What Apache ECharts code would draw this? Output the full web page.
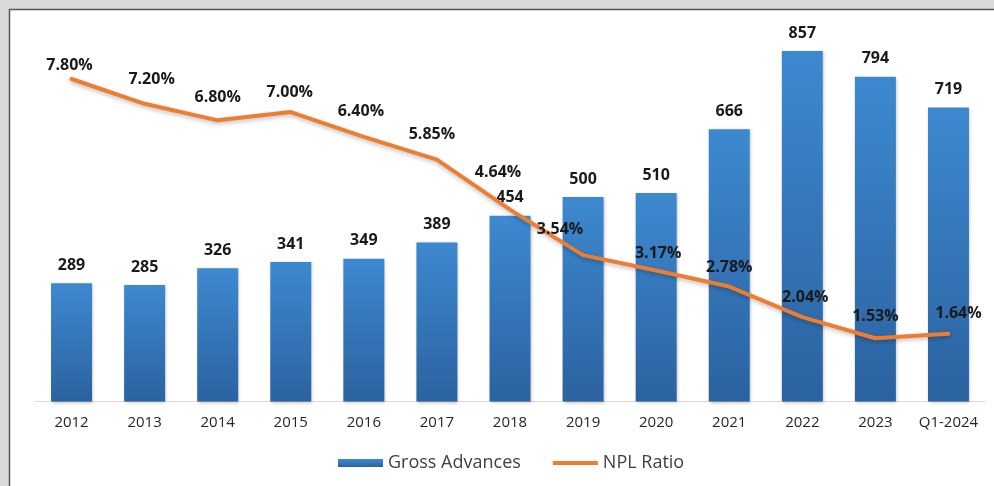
<!DOCTYPE html>
<html>
<head>
<meta charset="utf-8">
<script src="https://cdn.jsdelivr.net/npm/echarts@6/dist/echarts.min.js"></script>
<style>
  html, body { margin: 0; padding: 0; background: #d9d9d9; }
  #chart { width: 994px; height: 486px; }
</style>
</head>
<body>
<div id="chart"></div>
<script>
// Categories and values
const years = ['2012', '2013', '2014', '2015', '2016', '2017', '2018', '2019', '2020', '2021', '2022', '2023', 'Q1-2024'];
const grossAdvances = [289, 285, 326, 341, 349, 389, 454, 500, 510, 666, 857, 794, 719];
const nplRatio = [7.80, 7.20, 6.80, 7.00, 6.40, 5.85, 4.64, 3.54, 3.17, 2.78, 2.04, 1.53, 1.64];

// Per-point nudges for the ratio labels so they clear the line and bars
const nplLabelNudge = [
  [-2, 7], [7, -3], [0, -2], [-1, 1], [-3, -4], [-5, -4], [-12, -16],
  [-23, -5], [2, 4], [0, 2], [3, 1], [0, -1], [10, 1]
];

const chart = echarts.init(document.getElementById('chart'), null, { renderer: 'canvas' });

const labelFont = {
  fontFamily: 'Open Sans',
  fontWeight: 'bold',
  fontSize: 16,
  color: '#1a1a1a'
};

const barGradient = new echarts.graphic.LinearGradient(0, 0, 0, 1, [
  { offset: 0, color: '#3d89d0' },
  { offset: 1, color: '#2b62a0' }
]);

const option = {
  backgroundColor: 'transparent',
  animation: false,
  graphic: [
    {
      type: 'rect', z: -10, silent: true,
      shape: { x: 10, y: 10, width: 994, height: 486 },
      style: { fill: '#ffffff' }
    },
    {
      type: 'polyline', z: -9, silent: true,
      shape: { points: [[9.5, 486], [9.5, 9.5], [994, 9.5]] },
      style: { stroke: '#555555', lineWidth: 1.5, fill: null }
    }
  ],
  grid: { left: 35, right: 9, top: 33.5, bottom: 84.5 },
  legend: {
    left: 333,
    top: 449,
    itemWidth: 45,
    itemHeight: 8,
    itemGap: 32,
    textStyle: { fontFamily: 'Open Sans', fontSize: 18, color: '#404040' },
    data: [
      { name: 'Gross Advances', icon: 'rect' },
      { name: 'NPL Ratio', icon: 'path://M0,0 L45,0 L45,4 L0,4 Z' }
    ]
  },
  xAxis: {
    type: 'category',
    data: years,
    axisLine: { lineStyle: { color: '#d9d9d9', width: 1 } },
    axisTick: { show: false },
    axisLabel: {
      interval: 0,
      margin: 14,
      fontFamily: 'Open Sans',
      fontSize: 15,
      color: '#262626'
    }
  },
  yAxis: [
    { type: 'value', min: 0, max: 900, show: false, splitLine: { show: false } },
    { type: 'value', min: 0, max: 8.9, show: false, splitLine: { show: false } }
  ],
  series: [
    {
      name: 'Gross Advances',
      type: 'bar',
      yAxisIndex: 0,
      barWidth: 41,
      data: grossAdvances,
      itemStyle: {
        color: barGradient,
        shadowColor: 'rgba(0,0,0,0.25)',
        shadowBlur: 3,
        shadowOffsetX: 1,
        shadowOffsetY: 1
      },
      label: Object.assign({
        show: true,
        position: 'top',
        distance: 10
      }, labelFont),
      z: 2
    },
    {
      name: 'NPL Ratio',
      type: 'line',
      yAxisIndex: 1,
      data: nplRatio.map((v, i) => ({
        value: v,
        label: { offset: nplLabelNudge[i] }
      })),
      symbol: 'circle',
      symbolSize: 0,
      showSymbol: true,
      smooth: false,
      lineStyle: {
        color: '#ed7d31',
        width: 4,
        join: 'round',
        cap: 'round',
        shadowColor: 'rgba(0,0,0,0.25)',
        shadowBlur: 4,
        shadowOffsetY: 2
      },
      itemStyle: { color: '#ed7d31' },
      label: Object.assign({
        show: true,
        position: 'top',
        distance: 13,
        formatter: p => p.value.toFixed(2) + '%'
      }, labelFont),
      z: 3
    }
  ]
};

chart.setOption(option);
</script>
</body>
</html>
